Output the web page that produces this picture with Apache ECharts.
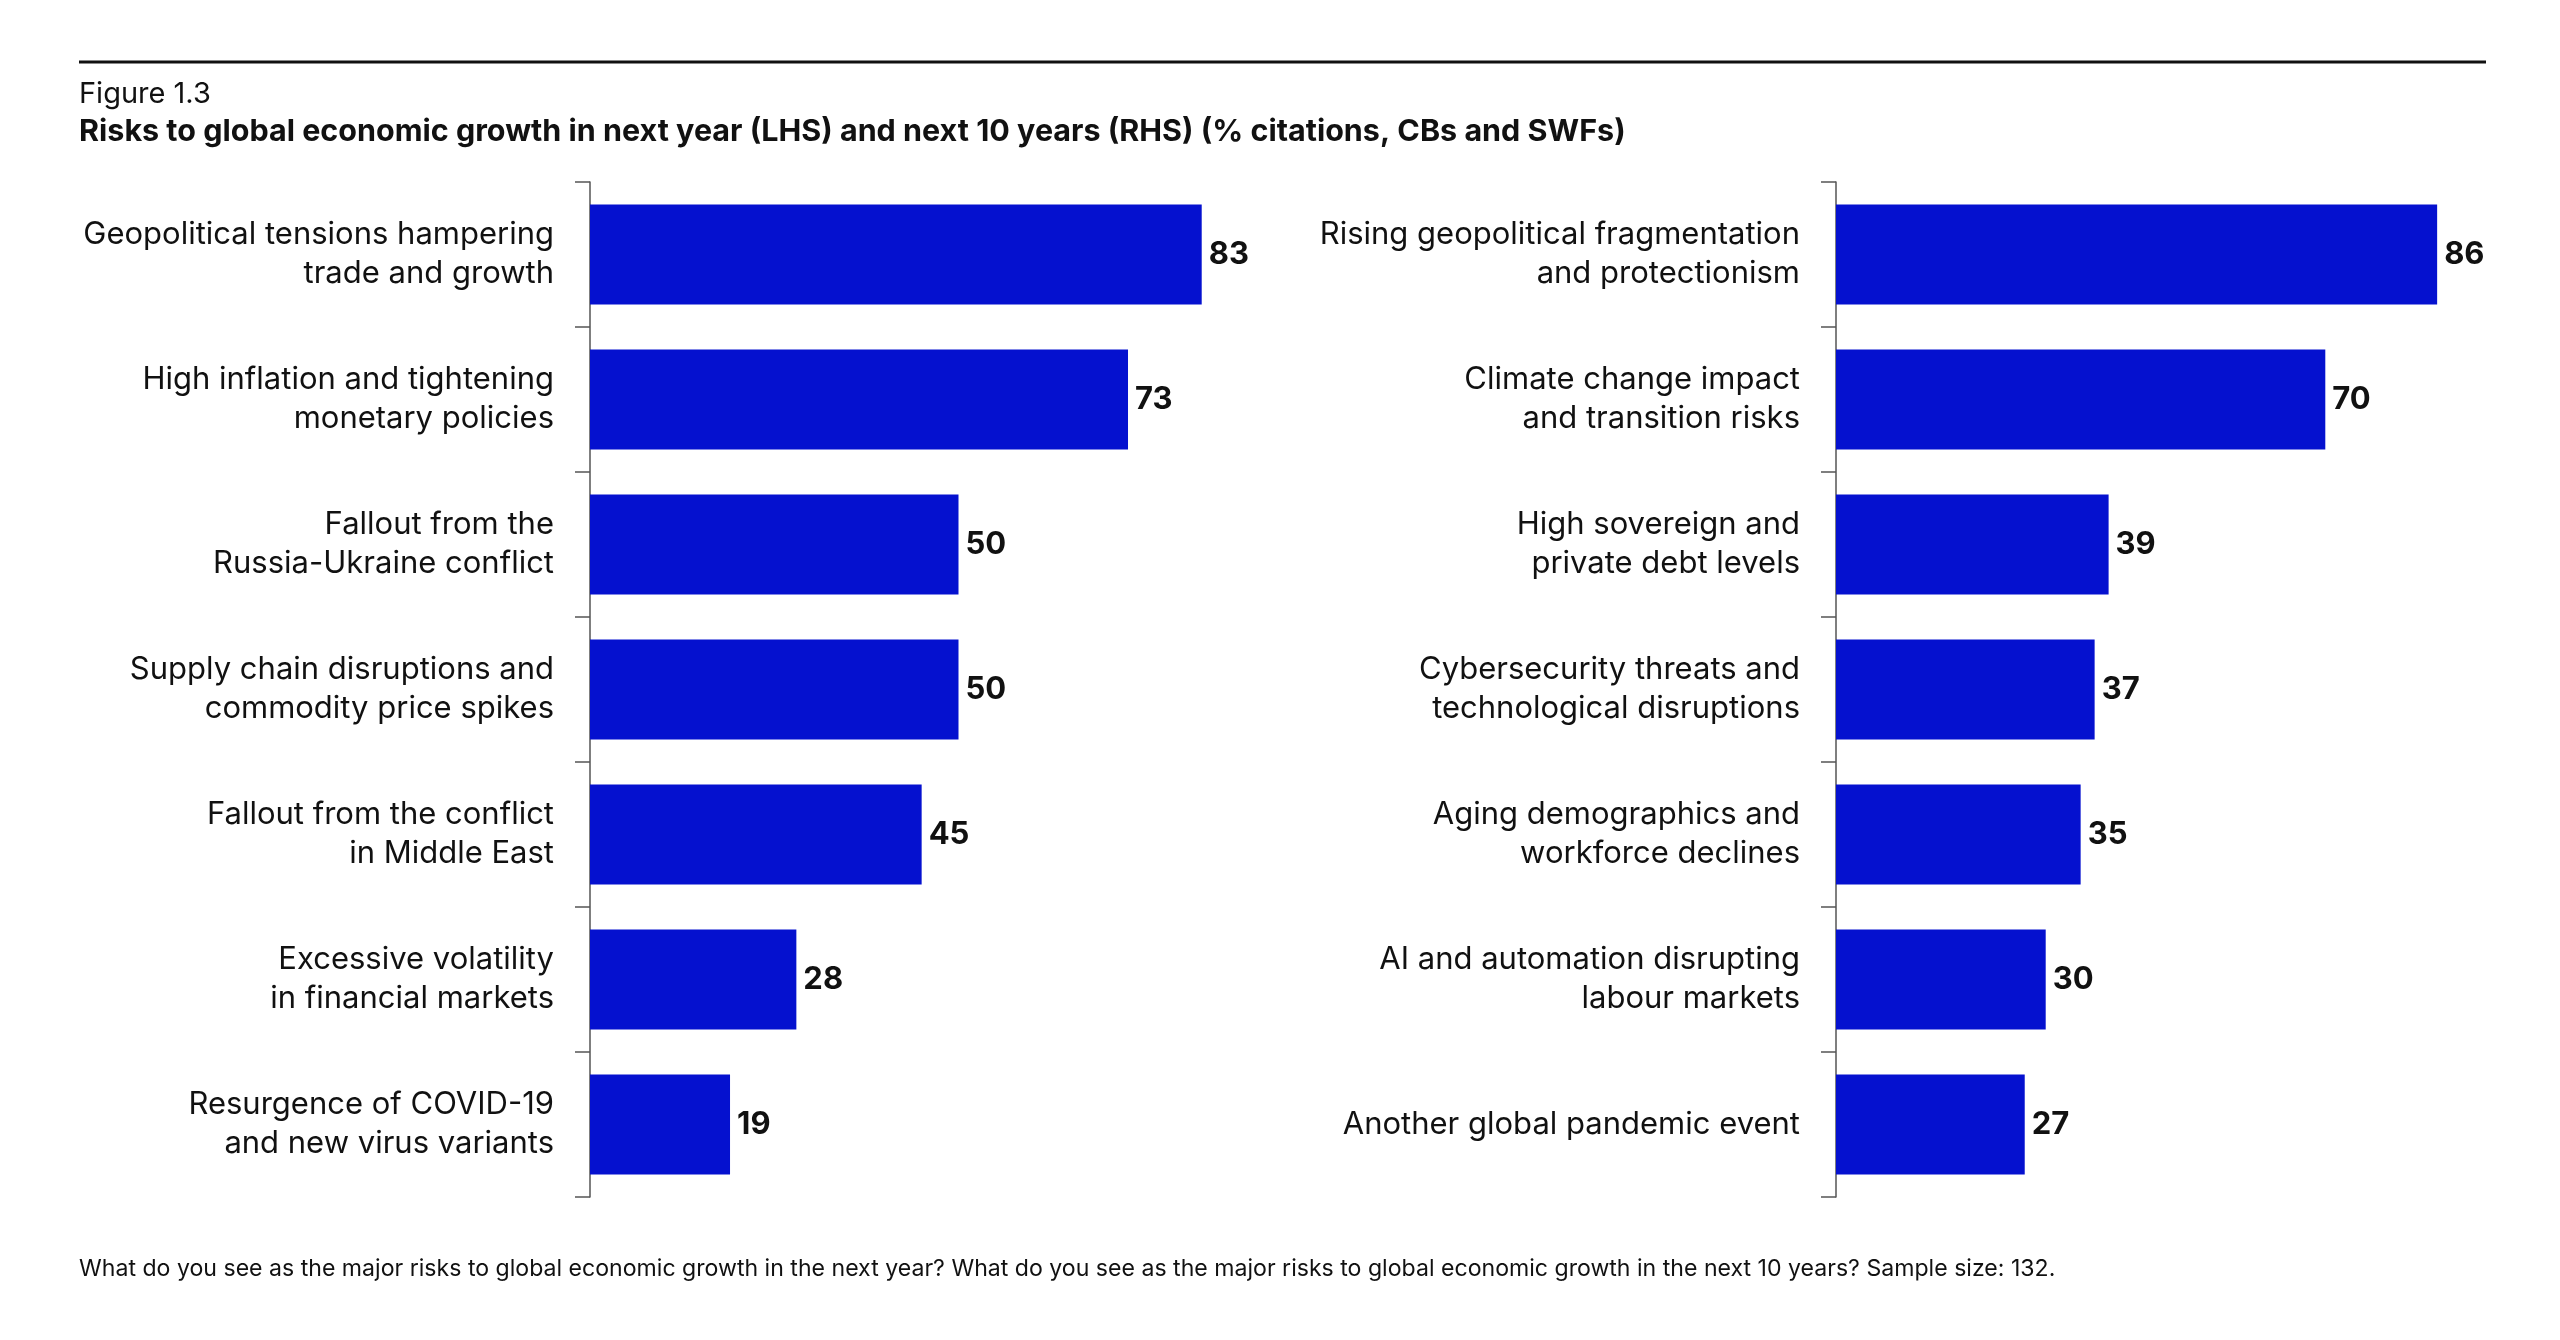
<!DOCTYPE html>
<html><head><meta charset="utf-8">
<script src="https://cdn.jsdelivr.net/npm/echarts@6/dist/echarts.min.js"></script>
<style>html,body{margin:0;padding:0;background:#fff}#c{width:2560px;height:1340px}</style>
</head><body><div id="c"></div>
<script>
const leftCategories = [
  "Geopolitical tensions hampering\ntrade and growth",
  "High inflation and tightening\nmonetary policies",
  "Fallout from the\nRussia-Ukraine conflict",
  "Supply chain disruptions and\ncommodity price spikes",
  "Fallout from the conflict\nin Middle East",
  "Excessive volatility\nin financial markets",
  "Resurgence of COVID-19\nand new virus variants"
];
const leftValues = [83, 73, 50, 50, 45, 28, 19];
const rightCategories = [
  "Rising geopolitical fragmentation\nand protectionism",
  "Climate change impact\nand transition risks",
  "High sovereign and\nprivate debt levels",
  "Cybersecurity threats and\ntechnological disruptions",
  "Aging demographics and\nworkforce declines",
  "AI and automation disrupting\nlabour markets",
  "Another global pandemic event"
];
const rightValues = [86, 70, 39, 37, 35, 30, 27];

const FONT = "Inter";
const BAR = "#0511CF";
const chart = echarts.init(document.getElementById('c'));

function yAxis(idx, cats) {
  return {
    type: 'category', gridIndex: idx, data: cats, inverse: true,
    axisLine: {show: true, lineStyle: {color: '#555', width: 1.5}},
    axisTick: {show: true, length: 15, lineStyle: {color: '#555', width: 1.5}},
    axisLabel: {color: '#111', fontFamily: FONT, fontSize: 31, lineHeight: 39, margin: 36, align: 'right'}
  };
}
function xAxis(idx) {
  return {type: 'value', gridIndex: idx, min: 0, max: 100, show: false};
}
function series(idx, vals) {
  return {
    type: 'bar', xAxisIndex: idx, yAxisIndex: idx, data: vals,
    barCategoryGap: '31%', itemStyle: {color: BAR},
    label: {show: true, position: 'right', distance: 7, color: '#111',
      fontFamily: FONT, fontWeight: 'bold', fontSize: 31},
    animation: false
  };
}

chart.setOption({
  animation: false,
  textStyle: {fontFamily: FONT},
  grid: [
    {left: 590, top: 182, width: 737, height: 1015},
    {left: 1836, top: 182, width: 699, height: 1015}
  ],
  xAxis: [xAxis(0), xAxis(1)],
  yAxis: [yAxis(0, leftCategories), yAxis(1, rightCategories)],
  series: [series(0, leftValues), series(1, rightValues)],
  graphic: [
    {type: 'line', shape: {x1: 79, y1: 62, x2: 2486, y2: 62}, style: {stroke: '#111', lineWidth: 3}},
    {type: 'text', left: 79, top: 80, style: {text: 'Figure 1.3', fontFamily: FONT, fontSize: 29, fill: '#111'}},
    {type: 'text', left: 79, top: 116, style: {text: 'Risks to global economic growth in next year (LHS) and next 10 years (RHS) (% citations, CBs and SWFs)', fontFamily: FONT, fontWeight: 'bold', fontSize: 30.5, fill: '#111'}},
    {type: 'text', left: 79, top: 1258, style: {text: 'What do you see as the major risks to global economic growth in the next year? What do you see as the major risks to global economic growth in the next 10 years? Sample size: 132.', fontFamily: FONT, fontSize: 23.1, fill: '#111'}}
  ]
});
</script>
</body></html>
